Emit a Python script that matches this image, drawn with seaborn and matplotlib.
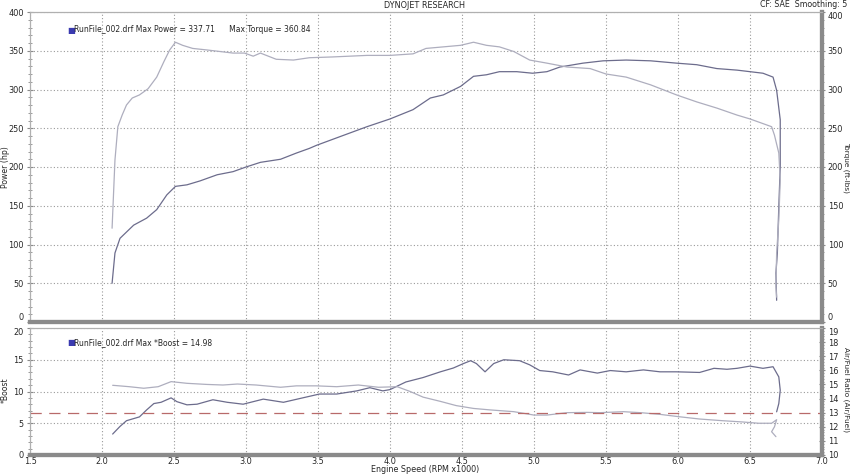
import numpy as np
import pandas as pd
import seaborn as sns
import matplotlib.pyplot as plt
from matplotlib.ticker import MultipleLocator, FormatStrFormatter

# dyno run values (rpm in thousands)
power_rpm = [2.07, 2.09, 2.125, 2.22, 2.31, 2.38, 2.45, 2.51, 2.59, 2.68, 2.80, 2.91, 3.0, 3.10,
             3.24, 3.35, 3.44, 3.49, 3.65, 3.84, 4.0, 4.16, 4.28, 4.37, 4.49, 4.58, 4.67, 4.76,
             4.88, 4.99, 5.09, 5.18, 5.34, 5.48, 5.64, 5.81, 5.99, 6.13, 6.27, 6.41, 6.5, 6.59,
             6.66, 6.685, 6.71, 6.71, 6.70, 6.69, 6.68, 6.685]
power_hp = [50, 89, 108, 125, 134, 145, 164, 175, 177, 182, 190, 194, 200, 206,
            210, 218, 224, 228, 239, 252, 262, 274, 289, 293, 304, 317, 319, 323,
            323, 321, 323, 329, 334, 337, 338, 337, 334, 332, 327, 325, 323, 321,
            316, 299, 261, 200, 149, 89, 63, 28]

torque_rpm = [2.07, 2.09, 2.11, 2.14, 2.17, 2.21, 2.26, 2.32, 2.38, 2.43, 2.47, 2.51, 2.56, 2.63,
              2.73, 2.82, 2.91, 2.99, 3.05, 3.10, 3.21, 3.33, 3.44, 3.60, 3.84, 4.0, 4.16, 4.25,
              4.37, 4.49, 4.58, 4.67, 4.76, 4.86, 4.97, 5.09, 5.23, 5.39, 5.50, 5.64, 5.81, 5.99,
              6.13, 6.27, 6.41, 6.5, 6.65, 6.67, 6.70, 6.71, 6.70, 6.685, 6.68, 6.685]
torque_ftlb = [121, 209, 252, 267, 280, 289, 293, 301, 316, 336, 351, 361, 357, 353,
               351, 349, 347, 347, 343, 347, 339, 338, 341, 342, 344, 344, 346, 353,
               355, 357, 361, 357, 355, 349, 338, 334, 329, 327, 320, 316, 306, 293,
               284, 276, 267, 262, 252, 241, 218, 183, 132, 89, 46, 32]

boost_rpm = [2.074, 2.125, 2.17, 2.26, 2.31, 2.36, 2.41, 2.48, 2.52, 2.59, 2.66, 2.77, 2.87, 2.98,
             3.12, 3.26, 3.375, 3.51, 3.63, 3.77, 3.86, 3.95, 4.0, 4.11, 4.23, 4.35, 4.44, 4.51,
             4.56, 4.60, 4.66, 4.72, 4.79, 4.90, 4.97, 5.04, 5.13, 5.24, 5.32, 5.44, 5.53, 5.64,
             5.76, 5.875, 5.99, 6.15, 6.25, 6.34, 6.41, 6.5, 6.59, 6.66, 6.70, 6.71, 6.70, 6.685]
boost_psi = [3.3, 4.5, 5.4, 6.0, 7.1, 8.1, 8.3, 9.0, 8.4, 7.9, 8.0, 8.7, 8.3, 8.0,
             8.8, 8.3, 8.9, 9.6, 9.6, 10.1, 10.6, 10.1, 10.3, 11.5, 12.2, 13.1, 13.7, 14.4,
             14.85, 14.4, 13.1, 14.4, 15.0, 14.85, 14.2, 13.3, 13.1, 12.6, 13.4, 12.9, 13.3, 13.1,
             13.4, 13.1, 13.1, 13.0, 13.65, 13.5, 13.65, 14.0, 13.65, 13.9, 12.3, 10.2, 8.1, 6.8]

afr_rpm = [2.074, 2.19, 2.29, 2.39, 2.48, 2.59, 2.73, 2.84, 2.94, 3.07, 3.24, 3.35, 3.49, 3.63,
           3.78, 3.92, 4.05, 4.14, 4.23, 4.35, 4.46, 4.58, 4.69, 4.86, 5.0, 5.09, 5.23, 5.37,
           5.46, 5.62, 5.74, 5.875, 6.01, 6.15, 6.31, 6.45, 6.56, 6.65, 6.685, 6.67, 6.65, 6.68]
afr_ratio = [14.94, 14.84, 14.73, 14.84, 15.2, 15.08, 15.0, 14.96, 15.03, 14.96, 14.8, 14.9, 14.9, 14.84,
             14.96, 14.8, 14.84, 14.5, 14.1, 13.8, 13.5, 13.3, 13.2, 13.07, 12.83, 12.83, 13.0, 13.02,
             13.0, 13.07, 13.0, 12.88, 12.71, 12.55, 12.43, 12.34, 12.25, 12.25, 12.5, 12.0, 11.65, 11.3]

afr_target = 13.0

top_df = pd.DataFrame({'rpm': power_rpm, 'hp': power_hp})
trq_df = pd.DataFrame({'rpm': torque_rpm, 'tq': torque_ftlb})
boost_df = pd.DataFrame({'rpm': boost_rpm, 'boost': boost_psi})
afr_df = pd.DataFrame({'rpm': afr_rpm, 'afr': afr_ratio})

sns.set_style('white')
plt.rcParams['font.family'] = ['DejaVu Sans']

dark = '#6c6c8c'
light = '#aeaebe'
frame = '#8a8a8a'
fs = 5.9

fig = plt.figure(figsize=(8.5, 4.74), dpi=100)
ax1 = fig.add_axes([30 / 850, 1 - 322 / 474, 792 / 850, 310 / 474])
ax2 = fig.add_axes([30 / 850, 1 - 455 / 474, 792 / 850, 127 / 474])
ax1r = ax1.twinx()
ax2r = ax2.twinx()

sns.lineplot(data=top_df, x='rpm', y='hp', sort=False, estimator=None, color=dark, lw=0.9, ax=ax1)
sns.lineplot(data=trq_df, x='rpm', y='tq', sort=False, estimator=None, color=light, lw=0.9, ax=ax1r)
sns.lineplot(data=boost_df, x='rpm', y='boost', sort=False, estimator=None, color=dark, lw=0.9, ax=ax2)
sns.lineplot(data=afr_df, x='rpm', y='afr', sort=False, estimator=None, color=light, lw=0.9, ax=ax2r)
ax2r.axhline(afr_target, color='#b86a6a', lw=0.9, dashes=(9, 6))

for ax in (ax1, ax2):
    ax.set_xlim(1.5, 7.0)
    ax.xaxis.set_major_locator(MultipleLocator(0.5))
    ax.xaxis.set_minor_locator(MultipleLocator(0.1))
    ax.grid(True, which='major', color='#9a9a9a', ls=(0, (1, 2)), lw=0.8)
    ax.set_xlabel('')
    ax.set_ylabel('')

ax1.set_ylim(0, 400)
ax1r.set_ylim(0, 400)
ax2.set_ylim(0, 20)
ax2r.set_ylim(10, 19)
for ax in (ax1, ax1r):
    ax.yaxis.set_major_locator(MultipleLocator(50))
    ax.yaxis.set_minor_locator(MultipleLocator(10))
ax2.yaxis.set_major_locator(MultipleLocator(5))
ax2.yaxis.set_minor_locator(MultipleLocator(1))
ax2r.yaxis.set_major_locator(MultipleLocator(1))
ax2r.yaxis.set_minor_locator(MultipleLocator(0.2))

ax1.tick_params(axis='x', which='both', labelbottom=False, direction='inout', length=4, color=frame)
ax2.tick_params(axis='x', which='major', labelsize=fs, direction='inout', length=3, color=frame, pad=0)
ax2.tick_params(axis='x', which='minor', direction='inout', length=3, color=frame)
ax2.xaxis.set_major_formatter(FormatStrFormatter('%.1f'))

for ax in (ax1, ax2):
    ax.tick_params(axis='y', which='major', labelsize=fs, direction='inout', length=5, color=frame, pad=2)
    ax.tick_params(axis='y', which='minor', direction='inout', length=3, color=frame)
for ax in (ax1r, ax2r):
    ax.tick_params(axis='y', which='major', labelsize=fs, direction='inout', length=5, color=frame, pad=1.5)
    ax.tick_params(axis='y', which='minor', direction='inout', length=3, color=frame)
    ax.set_ylabel('')

# frame: light thin top/left, heavy grey bottom/right like the dyno software
for ax in (ax1, ax2, ax1r, ax2r):
    ax.spines['top'].set_color('#b0b0b0')
    ax.spines['top'].set_linewidth(0.8)
    ax.spines['left'].set_color('#b0b0b0')
    ax.spines['left'].set_linewidth(0.8)
    ax.spines['bottom'].set_color(frame)
    ax.spines['bottom'].set_linewidth(3)
    ax.spines['right'].set_color(frame)
    ax.spines['right'].set_linewidth(3)

# keep the "0" of the top panel and the top label of the lower panel apart
fig.canvas.draw()
for t in ax1.yaxis.get_major_ticks():
    if abs(t.get_loc()) < 1e-9:
        t.label1.set_va('bottom')
for t in ax1r.yaxis.get_major_ticks():
    if abs(t.get_loc()) < 1e-9:
        t.label2.set_va('bottom')
    if abs(t.get_loc() - 400) < 1e-9:
        t.label2.set_va('top')
for t in ax2.yaxis.get_major_ticks():
    if abs(t.get_loc() - 20) < 1e-9:
        t.label1.set_va('top')
for t in ax2r.yaxis.get_major_ticks():
    if abs(t.get_loc() - 19) < 1e-9:
        t.label2.set_va('top')

# texts
fig.text(425 / 850, 1 - 5 / 474, 'DYNOJET RESEARCH', ha='center', va='center', fontsize=fs)
fig.text(847 / 850, 1 - 4.5 / 474, 'CF: SAE  Smoothing: 5', ha='right', va='center', fontsize=5.7)
fig.text(5 / 850, 1 - 167 / 474, 'Power (hp)', rotation=90, ha='center', va='center', fontsize=5.6)
fig.text(846.5 / 850, 1 - 167 / 474, 'Torque (ft-lbs)', rotation=270, ha='center', va='center', fontsize=5.3)
fig.text(5 / 850, 1 - 390 / 474, '*Boost', rotation=90, ha='center', va='center', fontsize=5.6)
fig.text(846.5 / 850, 1 - 390 / 474, 'Air/Fuel Ratio (Air/Fuel)', rotation=270, ha='center', va='center', fontsize=5.3)
fig.text(425 / 850, 1 - 469 / 474, 'Engine Speed (RPM x1000)', ha='center', va='center', fontsize=5.8)

fig.text(67 / 850, 1 - 30 / 474, '\u25a0', color='#3a3ab0', ha='left', va='center', fontsize=6)
fig.text(74 / 850, 1 - 30 / 474, 'RunFile_002.drf Max Power = 337.71      Max Torque = 360.84',
         ha='left', va='center', fontsize=5.5)
fig.text(67 / 850, 1 - 343 / 474, '\u25a0', color='#3a3ab0', ha='left', va='center', fontsize=6)
fig.text(74 / 850, 1 - 343 / 474, 'RunFile_002.drf Max *Boost = 14.98',
         ha='left', va='center', fontsize=5.5)

fig.savefig('out.png', dpi=100)
